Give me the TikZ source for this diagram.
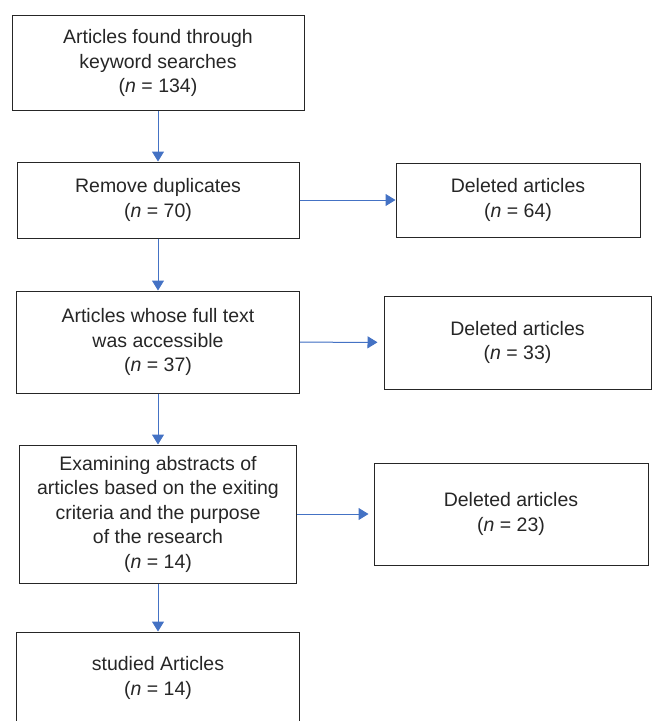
\documentclass[tikz,border=0pt]{standalone}
\usepackage{fontspec}
\setmainfont{Liberation Sans}
\usetikzlibrary{arrows.meta}
\usetikzlibrary{calc}
\usetikzlibrary{positioning}

\definecolor{flowblue}{RGB}{68,114,196}

\begin{document}
\begin{tikzpicture}[x=1pt,y=-1pt,
    stagebox/.style={draw=black!85,line width=1pt,rectangle,align=center,inner sep=0pt,
      font=\fontsize{19.5}{24.5}\selectfont,text=black!85},
    flowarrow/.style={draw=flowblue,fill=flowblue,line width=1pt,-{Triangle[length=10pt,width=12pt]}}]

  \useasboundingbox (0,0) rectangle (652,721);

  % main column
  \node [stagebox,minimum width=292pt,minimum height=95pt] (found) at (158,63)
    {Articles found through\\keyword searches\\(\textit{n} = 134)};
  \node [stagebox,minimum width=282pt,minimum height=76pt] (dupes) at (158,200)
    {Remove duplicates\\(\textit{n} = 70)};
  \node [stagebox,minimum width=283pt,minimum height=102pt] (fulltext) at (158,342)
    {Articles whose full text\\was accessible\\(\textit{n} = 37)};
  \node [stagebox,minimum width=277pt,minimum height=138pt] (abstracts) at (158,514)
    {Examining abstracts of\\articles based on the exiting\\criteria and the purpose\\of the research\\(\textit{n} = 14)};
  \node [stagebox,minimum width=283pt,minimum height=92pt] (studied) at (158,678)
    {studied Articles\\(\textit{n} = 14)};

  % deleted articles
  \node [stagebox,minimum width=244pt,minimum height=74pt] (del_a) at (518,200)
    {Deleted articles\\(\textit{n} = 64)};
  \node [stagebox,minimum width=267pt,minimum height=93pt] (del_b) at (517.5,342.5)
    {Deleted articles\\(\textit{n} = 33)};
  \node [stagebox,minimum width=274pt,minimum height=102pt] (del_c) at (511,514)
    {Deleted articles\\(\textit{n} = 23)};

  \path [every edge/.style=flowarrow]
    (found)     edge (dupes)
    (dupes)     edge (fulltext)
    (fulltext)  edge (abstracts)
    (abstracts) edge (studied)
    (dupes)     edge (del_a)
    (fulltext)  edge [shorten >=6pt] (del_b)
    (abstracts) edge [shorten >=5pt] (del_c);

\end{tikzpicture}
\end{document}
